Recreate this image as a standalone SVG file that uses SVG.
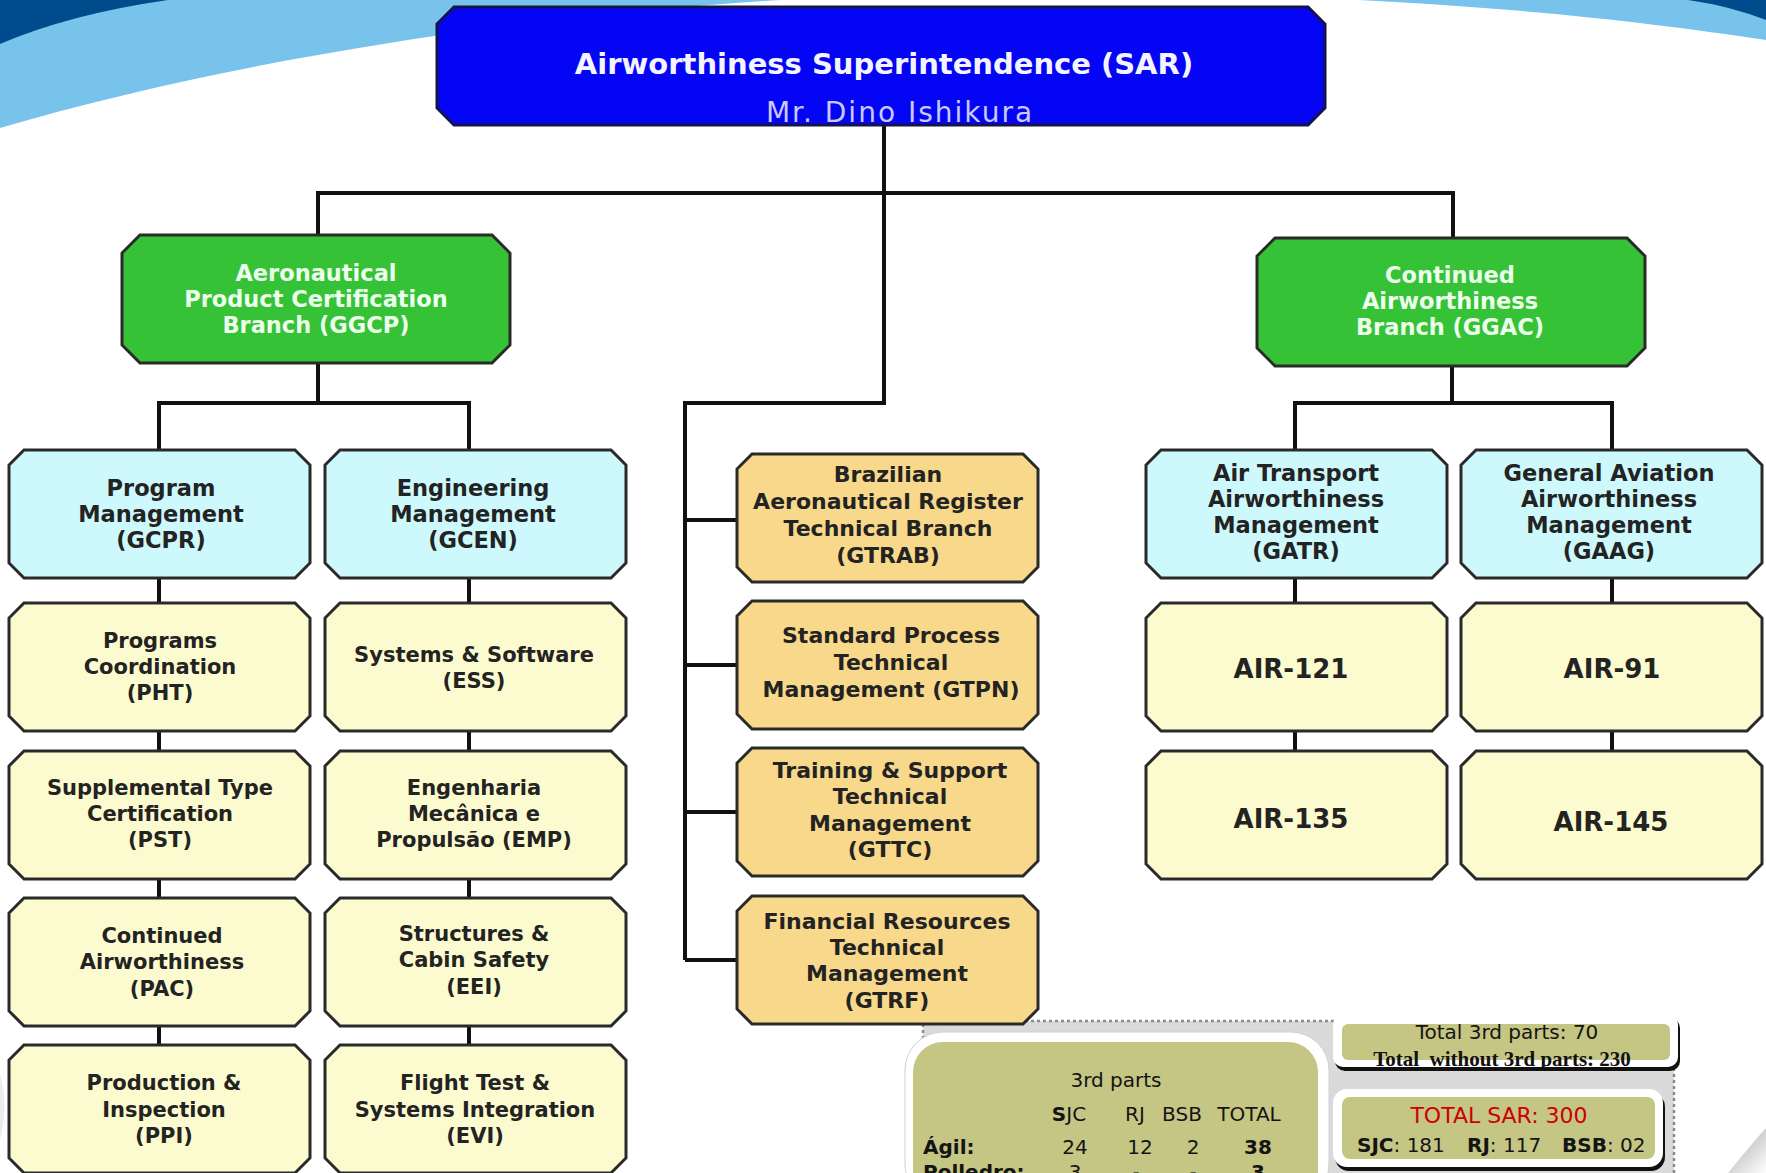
<svg xmlns="http://www.w3.org/2000/svg" width="1766" height="1173" viewBox="0 0 1766 1173">
<defs>
<style>
.bx{stroke:#2a2a2a;stroke-width:3}
.blue{fill:#0505f5;stroke:#14144a;stroke-width:3}
.green{fill:#36c236}
.cyan{fill:#cdf8fc}
.yel{fill:#fcfbcf}
.gold{fill:#f8d88a}
.t{font-family:"DejaVu Sans","Liberation Sans",sans-serif;font-weight:bold;text-anchor:middle;fill:#232323}
.t21{font-size:21px}
.t22{font-size:22px}
.t225{font-size:22.5px}
.tw{fill:#ecffec}
.air{font-size:26px}
.n{font-family:"DejaVu Sans","Liberation Sans",sans-serif;font-size:20px;fill:#141414}
.b{font-weight:bold}
.c{text-anchor:middle}
.con{fill:none;stroke:#111;stroke-width:4}
.olive{fill:#c5c584}
</style>
<path id="box" d="M15,0 H286 L301,15 V113 L286,128 H15 L0,113 V15 Z"/>
<path id="gbox" d="M18,0 H370 L388,18 V110 L370,128 H18 L0,110 V18 Z"/>
<linearGradient id="curl" gradientUnits="userSpaceOnUse" x1="1738" y1="1146" x2="1766" y2="1173">
<stop offset="0" stop-color="#c4c4c4"/>
<stop offset="1" stop-color="#ffffff"/>
</linearGradient>
</defs>

<rect width="1766" height="1173" fill="#ffffff"/>
<path d="M0,0 V128 C300,40 700,-10 1050,-8 C1400,-6 1600,15 1766,40 V0 Z" fill="#78c3ec"/>
<path d="M0,0 V44 Q70,14 168,0 Z" fill="#004b8c"/>
<path d="M1688,0 Q1730,6 1766,20 V0 Z" fill="#004b8c"/>
<path d="M0,1075 Q9,1105 0,1140 Z" fill="#ececec"/>
<path d="M1728,1173 Q1748,1148 1766,1128 V1173 Z" fill="url(#curl)"/>

<g id="summary">
<rect x="923" y="1021" width="751" height="170" fill="#dadada" stroke="#8c8c8c" stroke-width="2.5" stroke-dasharray="3 3"/>
<rect x="905" y="1032" width="424" height="170" rx="38" fill="#ffffff" stroke="#d0d0d0" stroke-width="1"/>
<rect x="913" y="1042" width="405" height="160" rx="30" class="olive"/>
<text class="n c" x="1116" y="1087">3rd parts</text>
<text class="n c" x="1069" y="1121"><tspan class="b">S</tspan>JC</text>
<text class="n c" x="1135" y="1121">RJ</text>
<text class="n c" x="1182" y="1121">BSB</text>
<text class="n c" x="1249" y="1121">TOTAL</text>
<text class="n b" x="923" y="1154">Ágil:</text>
<text class="n c" x="1075" y="1154">24</text>
<text class="n c" x="1140" y="1154">12</text>
<text class="n c" x="1193" y="1154">2</text>
<text class="n c b" x="1258" y="1154">38</text>
<text class="n b" x="923" y="1179">Polledro:</text>
<text class="n c" x="1075" y="1179">3</text>
<text class="n c" x="1136" y="1179">-</text>
<text class="n c" x="1193" y="1179">-</text>
<text class="n c b" x="1258" y="1179">3</text>

<rect x="1335" y="1018" width="345" height="53" rx="10" fill="#111111"/>
<rect x="1333" y="1014" width="345" height="53" rx="10" fill="#ffffff"/>
<rect x="1342" y="1024" width="328" height="36" rx="6" class="olive"/>
<text class="n c" x="1507" y="1039">Total 3rd parts: 70</text>
<text x="1502" y="1066" font-family="'Liberation Serif','Times New Roman',serif" font-weight="bold" font-size="21" text-anchor="middle" fill="#111" style="white-space:pre">Total  without 3rd parts: 230</text>

<rect x="1335" y="1093" width="330" height="78" rx="14" fill="#111111"/>
<rect x="1333" y="1089" width="330" height="78" rx="14" fill="#ffffff"/>
<rect x="1342" y="1097" width="313" height="62" rx="8" class="olive"/>
<text class="n c" x="1499" y="1123" font-size="22" fill="#cc0000" style="font-size:22px;fill:#cc0000">TOTAL SAR: 300</text>
<text class="n" y="1152"><tspan class="b" x="1357">SJC</tspan><tspan>: 181</tspan><tspan class="b" x="1467">RJ</tspan><tspan>: 117</tspan><tspan class="b" x="1562">BSB</tspan><tspan>: 02</tspan></text>
</g>

<g id="connectors">
<path class="con" d="M884,125 V403 H685 V960"/>
<path class="con" d="M318,235 V193 H1453 V238"/>
<path class="con" d="M318,363 V403 M159,450 V403 H469 V450"/>
<path class="con" d="M1452,365 V403 M1295,450 V403 H1612 V450"/>
<path class="con" d="M159,578 V603 M159,731 V751 M159,879 V898 M159,1026 V1045"/>
<path class="con" d="M469,578 V603 M469,731 V751 M469,879 V898 M469,1026 V1045"/>
<path class="con" d="M1295,578 V603 M1295,731 V751 M1612,578 V603 M1612,731 V751"/>
<path class="con" d="M685,520 H737 M685,665 H737 M685,812 H737 M685,960 H737"/>
</g>

<g id="sar">
<path class="blue" d="M454,7 H1308 L1325,24 V108 L1308,125 H454 L437,108 V24 Z"/>
<text x="884" y="74" font-family="'DejaVu Sans','Liberation Sans',sans-serif" font-weight="bold" font-size="29" text-anchor="middle" fill="#f4f4ff">Airworthiness Superintendence (SAR)</text>
<text x="900" y="122" font-family="'DejaVu Sans','Liberation Sans',sans-serif" font-size="28" letter-spacing="2" text-anchor="middle" fill="#c9c9ff">Mr. Dino Ishikura</text>
</g>

<g id="ggcp">
<use href="#gbox" class="bx green" x="122" y="235"/>
<text class="t t225 tw" x="316"><tspan x="316" y="281">Aeronautical</tspan><tspan x="316" y="307">Product Certification</tspan><tspan x="316" y="333">Branch (GGCP)</tspan></text>
</g>
<g id="ggac">
<use href="#gbox" class="bx green" x="1257" y="238"/>
<text class="t t225 tw"><tspan x="1450" y="283">Continued</tspan><tspan x="1450" y="309">Airworthiness</tspan><tspan x="1450" y="335">Branch (GGAC)</tspan></text>
</g>

<g id="gcpr">
<use href="#box" class="bx cyan" x="9" y="450"/>
<text class="t t225"><tspan x="161" y="496">Program</tspan><tspan x="161" y="522">Management</tspan><tspan x="161" y="548">(GCPR)</tspan></text>
</g>
<g id="gcen">
<use href="#box" class="bx cyan" x="325" y="450"/>
<text class="t t225"><tspan x="473" y="496">Engineering</tspan><tspan x="473" y="522">Management</tspan><tspan x="473" y="548">(GCEN)</tspan></text>
</g>
<g id="gatr">
<use href="#box" class="bx cyan" x="1146" y="450"/>
<text class="t t225"><tspan x="1296" y="481">Air Transport</tspan><tspan x="1296" y="507">Airworthiness</tspan><tspan x="1296" y="533">Management</tspan><tspan x="1296" y="559">(GATR)</tspan></text>
</g>
<g id="gaag">
<use href="#box" class="bx cyan" x="1461" y="450"/>
<text class="t t225"><tspan x="1609" y="481">General Aviation</tspan><tspan x="1609" y="507">Airworthiness</tspan><tspan x="1609" y="533">Management</tspan><tspan x="1609" y="559">(GAAG)</tspan></text>
</g>

<g id="pht">
<use href="#box" class="bx yel" x="9" y="603"/>
<text class="t t21"><tspan x="160" y="648">Programs</tspan><tspan x="160" y="674">Coordination</tspan><tspan x="160" y="700">(PHT)</tspan></text>
</g>
<g id="ess">
<use href="#box" class="bx yel" x="325" y="603"/>
<text class="t t21"><tspan x="474" y="662">Systems &amp; Software</tspan><tspan x="474" y="688">(ESS)</tspan></text>
</g>
<g id="pst">
<use href="#box" class="bx yel" x="9" y="751"/>
<text class="t t21"><tspan x="160" y="795">Supplemental Type</tspan><tspan x="160" y="821">Certification</tspan><tspan x="160" y="847">(PST)</tspan></text>
</g>
<g id="emp">
<use href="#box" class="bx yel" x="325" y="751"/>
<text class="t t21"><tspan x="474" y="795">Engenharia</tspan><tspan x="474" y="821">Mecânica e</tspan><tspan x="474" y="847">Propulsão (EMP)</tspan></text>
</g>
<g id="pac">
<use href="#box" class="bx yel" x="9" y="898"/>
<text class="t t21"><tspan x="162" y="943">Continued</tspan><tspan x="162" y="969">Airworthiness</tspan><tspan x="162" y="996">(PAC)</tspan></text>
</g>
<g id="eei">
<use href="#box" class="bx yel" x="325" y="898"/>
<text class="t t21"><tspan x="474" y="941">Structures &amp;</tspan><tspan x="474" y="967">Cabin Safety</tspan><tspan x="474" y="994">(EEI)</tspan></text>
</g>
<g id="ppi">
<use href="#box" class="bx yel" x="9" y="1045"/>
<text class="t t21"><tspan x="164" y="1090">Production &amp;</tspan><tspan x="164" y="1117">Inspection</tspan><tspan x="164" y="1143">(PPI)</tspan></text>
</g>
<g id="evi">
<use href="#box" class="bx yel" x="325" y="1045"/>
<text class="t t21"><tspan x="475" y="1090">Flight Test &amp;</tspan><tspan x="475" y="1117">Systems Integration</tspan><tspan x="475" y="1143">(EVI)</tspan></text>
</g>

<g id="air121">
<use href="#box" class="bx yel" x="1146" y="603"/>
<text class="t air" x="1291" y="678">AIR-121</text>
</g>
<g id="air91">
<use href="#box" class="bx yel" x="1461" y="603"/>
<text class="t air" x="1612" y="678">AIR-91</text>
</g>
<g id="air135">
<use href="#box" class="bx yel" x="1146" y="751"/>
<text class="t air" x="1291" y="828">AIR-135</text>
</g>
<g id="air145">
<use href="#box" class="bx yel" x="1461" y="751"/>
<text class="t air" x="1611" y="831">AIR-145</text>
</g>

<g id="gtrab">
<use href="#box" class="bx gold" x="737" y="454"/>
<text class="t t22"><tspan x="888" y="482">Brazilian</tspan><tspan x="888" y="509">Aeronautical Register</tspan><tspan x="888" y="536">Technical Branch</tspan><tspan x="888" y="563">(GTRAB)</tspan></text>
</g>
<g id="gtpn">
<use href="#box" class="bx gold" x="737" y="601"/>
<text class="t t22"><tspan x="891" y="643">Standard Process</tspan><tspan x="891" y="670">Technical</tspan><tspan x="891" y="697">Management (GTPN)</tspan></text>
</g>
<g id="gttc">
<use href="#box" class="bx gold" x="737" y="748"/>
<text class="t t22"><tspan x="890" y="778">Training &amp; Support</tspan><tspan x="890" y="804">Technical</tspan><tspan x="890" y="831">Management</tspan><tspan x="890" y="857">(GTTC)</tspan></text>
</g>
<g id="gtrf">
<use href="#box" class="bx gold" x="737" y="896"/>
<text class="t t22"><tspan x="887" y="929">Financial Resources</tspan><tspan x="887" y="955">Technical</tspan><tspan x="887" y="981">Management</tspan><tspan x="887" y="1008">(GTRF)</tspan></text>
</g>
</svg>
